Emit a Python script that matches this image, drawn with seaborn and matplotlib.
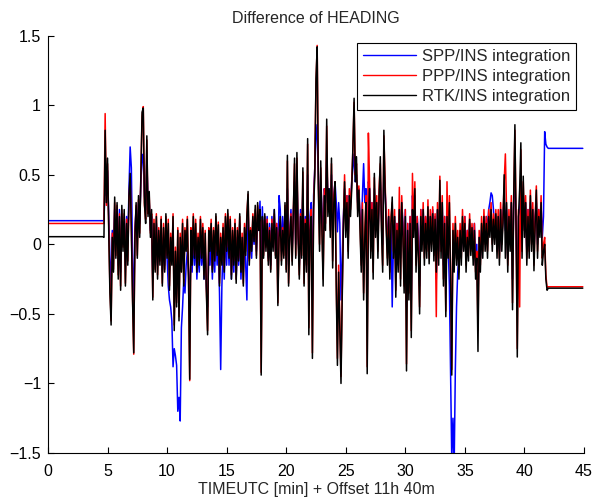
import numpy as np
import pandas as pd
import matplotlib
matplotlib.use("Agg")
import matplotlib.pyplot as plt
import seaborn as sns

# ---- data (minutes after 11h 40m, heading difference) ----
lead_t = [0.0, 4.6]
lead_spp = [0.17, 0.17]
lead_ppp = [0.15, 0.15]
lead_rtk = [0.055, 0.055]

noise_start = 4.7
noise_step = 0.1

spp_noise = [
    0.17, 0.45, 0.35, 0.53, 0.20, -0.10, -0.30, 0.10, -0.05, 0.25,
    0.00, 0.20, -0.15, 0.25, -0.20, 0.20, 0.05, 0.15, -0.15, 0.20,
    0.00, 0.40, 0.70, 0.55, -0.10, -0.45, 0.10, 0.25, 0.05, 0.30,
    0.15, 0.45, 0.60, 0.65, 0.35, 0.25, 0.60, 0.30, 0.30, 0.10,
    0.20, -0.25, 0.10, -0.10, 0.15, -0.15, 0.05, -0.05, 0.10, -0.20,
    0.05, -0.15, 0.05, -0.10, -0.30, -0.40, -0.45, -0.55, -0.88, -0.75,
    -0.80, -0.87, -1.20, -1.10, -1.27, -0.60, -0.45, -0.25, -0.35, -0.15,
    -0.05, -0.20, -0.40, -0.10, -0.20, 0.05, -0.15, 0.05, -0.25, -0.05,
    -0.20, 0.05, -0.15, 0.00, -0.25, -0.05, -0.30, -0.45, -0.05, -0.15,
    0.05, -0.25, 0.00, -0.20, 0.10, -0.15, 0.00, -0.35, -0.90, -0.30,
    0.00, -0.25, 0.10, -0.15, 0.15, -0.15, 0.10, -0.25, 0.00, -0.20,
    0.05, -0.25, 0.05, -0.15, 0.15, -0.25, -0.05, -0.20, 0.05, -0.15,
    -0.40, 0.25, -0.10, 0.05, -0.10, 0.15, 0.00, 0.20, -0.05, 0.15,
    0.10, 0.31, -0.10, 0.27, -0.05, 0.20, 0.00, 0.20, -0.10, 0.15,
    -0.15, 0.20, 0.00, 0.25, -0.05, 0.15, -0.20, 0.35, 0.25, -0.05,
    0.20, 0.00, 0.25, -0.10, 0.40, -0.15, 0.10, 0.25, -0.05, 0.20,
    0.45, 0.00, 0.50, 0.10, -0.15, 0.25, 0.00, 0.40, -0.15, 0.20,
    -0.05, 0.50, -0.30, 0.20, 0.30, -0.40, 0.35, 0.55, 0.86, 0.75,
    0.50, 0.15, 0.45, 0.25, 0.00, 0.40, 0.30, 0.60, 0.35, 0.40,
    0.25, 0.50, 0.10, 0.35, 0.45, 0.30, 0.09, 0.30, 0.15, -0.40,
    -0.10, 0.20, 0.40, 0.15, 0.35, 0.05, 0.35, 0.30, 0.45, 0.55,
    0.65, 0.45, 0.50, 0.30, 0.40, 0.20, 0.05, 0.35, 0.58, 0.30,
    0.40, -0.40, 0.45, 0.40, 0.10, 0.30, 0.00, 0.40, 0.15, 0.30,
    0.05, 0.35, 0.45, 0.20, 0.00, 0.55, 0.40, 0.20, 0.00, 0.20,
    -0.10, 0.15, -0.45, 0.00, 0.20, -0.20, 0.15, -0.05, 0.25, -0.10,
    0.30, 0.15, -0.15, 0.25, -0.45, 0.15, -0.20, 0.20, -0.40, 0.35,
    0.15, 0.35, -0.05, 0.20, 0.05, -0.30, 0.25, 0.05, 0.25, 0.00,
    0.20, 0.00, 0.25, -0.05, 0.20, 0.05, 0.25, 0.00, 0.20, -0.25,
    0.25, -0.05, 0.35, 0.00, 0.30, -0.15, 0.20, -0.30, 0.15, 0.00,
    -0.30, -0.90, -1.55, -1.25, -1.60, -0.90, -0.45, -0.20, -0.10, 0.00,
    -0.05, 0.15, 0.05, 0.20, -0.10, 0.10, 0.00, 0.15, 0.05, 0.10,
    -0.05, 0.15, -0.15, 0.00, -0.40, 0.05, -0.10, 0.10, 0.00, 0.15,
    0.05, 0.20, 0.10, 0.25, 0.30, 0.37, 0.35, 0.25, 0.10, 0.20,
    0.00, 0.20, -0.05, 0.25, 0.05, 0.20, 0.35, 0.10, 0.25, -0.10,
    0.20, 0.05, 0.30, -0.25, 0.30, 0.50, 0.15, -0.40, 0.20, 0.25,
    0.40, 0.05, 0.35, 0.10, 0.30, -0.05, 0.25, 0.00, 0.30, 0.05,
    0.25, -0.05, 0.20, 0.30, 0.00, 0.25, 0.10, 0.27, 0.05, 0.20,
]

ppp_noise = [
    0.15, 0.94, 0.28, 0.58, 0.12, -0.30, -0.55, 0.08, -0.18, 0.30,
    -0.08, 0.28, -0.22, 0.22, -0.30, 0.25, -0.02, 0.22, -0.28, 0.18,
    -0.12, 0.32, 0.48, 0.12, -0.38, -0.79, 0.08, 0.28, -0.08, 0.32,
    0.08, 0.52, 0.92, 0.99, 0.28, 0.18, 0.75, 0.22, 0.35, 0.08,
    0.22, -0.38, 0.18, -0.18, 0.22, -0.22, 0.12, -0.12, 0.20, -0.28,
    0.15, -0.18, 0.20, -0.08, 0.18, -0.30, 0.08, -0.12, 0.22, -0.58,
    -0.02, -0.42, 0.12, -0.52, 0.08, -0.18, 0.18, -0.28, 0.12, -0.02,
    0.20, -0.22, -0.98, 0.12, -0.12, 0.22, -0.08, 0.18, -0.18, 0.08,
    -0.12, 0.20, -0.08, 0.15, -0.22, 0.10, -0.32, -0.62, 0.12, -0.02,
    0.18, -0.18, 0.12, -0.10, 0.20, -0.05, 0.16, -0.28, 0.08, -0.12,
    0.15, -0.18, 0.22, -0.02, 0.22, -0.08, 0.20, -0.22, 0.12, -0.12,
    0.18, -0.25, 0.12, -0.10, 0.20, -0.18, 0.08, -0.28, 0.15, -0.05,
    0.22, 0.36, -0.12, 0.12, -0.02, 0.22, 0.05, 0.25, -0.08, 0.28,
    0.12, 0.22, -0.92, 0.18, -0.08, 0.20, -0.02, 0.18, -0.12, 0.12,
    -0.18, 0.18, -0.02, 0.22, -0.08, 0.15, -0.42, 0.08, 0.18, -0.12,
    0.12, -0.08, 0.28, -0.18, 0.60, -0.28, 0.08, 0.22, -0.12, 0.22,
    0.58, -0.08, 0.62, 0.08, -0.22, 0.22, -0.08, 0.52, -0.28, 0.18,
    -0.15, 0.72, -0.60, 0.15, 0.25, -0.78, 0.28, 0.55, 1.15, 1.43,
    0.45, 0.00, 0.55, 0.15, -0.25, 0.40, 0.15, 0.85, 0.25, 0.35,
    0.10, 0.58, -0.12, 0.35, 0.45, -0.25, -0.82, -0.15, -0.55, -0.95,
    -0.35, 0.15, 0.50, 0.10, 0.35, -0.05, 0.40, 0.25, 0.45, 0.68,
    1.02, 0.50, 0.58, 0.25, 0.42, 0.15, -0.15, 0.30, -0.35, 0.10,
    0.35, -0.88, 0.80, 0.45, -0.05, 0.30, -0.20, 0.48, 0.10, 0.35,
    -0.05, 0.40, 0.58, 0.15, -0.15, 0.78, 0.45, 0.15, -0.10, 0.25,
    -0.20, 0.20, 0.30, -0.05, 0.25, -0.33, 0.15, -0.15, 0.41, -0.25,
    0.35, 0.10, -0.30, 0.25, -0.86, 0.15, -0.35, 0.20, -0.62, 0.51,
    0.10, 0.45, -0.15, 0.20, -0.05, -0.45, 0.25, 0.00, 0.30, -0.10,
    0.20, -0.05, 0.32, -0.10, 0.25, 0.00, 0.27, -0.08, 0.22, -0.52,
    0.30, -0.10, 0.49, -0.05, 0.35, -0.25, 0.20, -0.48, 0.45, -0.05,
    0.35, -0.20, -0.90, 0.15, -0.15, 0.20, -0.10, 0.10, -0.20, 0.15,
    -0.10, 0.25, 0.00, 0.20, -0.15, 0.10, -0.08, 0.22, -0.05, 0.15,
    -0.10, 0.15, -0.20, -0.05, -0.62, 0.10, -0.15, 0.20, -0.05, 0.25,
    0.00, 0.20, -0.05, 0.25, 0.10, 0.30, 0.00, 0.22, 0.05, 0.25,
    -0.05, 0.25, -0.10, 0.30, 0.00, 0.20, 0.45, 0.65, 0.25, -0.15,
    0.25, 0.00, 0.35, -0.42, 0.30, 0.82, 0.15, -0.75, 0.25, -0.45,
    0.68, -0.05, 0.45, 0.10, 0.35, -0.10, 0.25, -0.05, 0.39, 0.00,
    0.30, -0.15, 0.20, 0.42, -0.05, 0.25, 0.10, 0.35, -0.10, 0.00,
]

rtk_noise = [
    0.05, 0.82, 0.30, 0.62, 0.10, -0.35, -0.58, 0.05, -0.20, 0.34,
    -0.10, 0.30, -0.25, 0.20, -0.33, 0.28, -0.05, 0.25, -0.30, 0.15,
    -0.15, 0.35, 0.51, 0.10, -0.40, -0.78, 0.05, 0.30, -0.10, 0.35,
    0.05, 0.50, 0.95, 0.98, 0.30, 0.15, 0.78, 0.20, 0.38, 0.05,
    0.25, -0.40, 0.15, -0.20, 0.20, -0.25, 0.10, -0.15, 0.18, -0.30,
    0.12, -0.20, 0.22, -0.10, 0.15, -0.33, 0.05, -0.15, 0.20, -0.62,
    -0.05, -0.45, 0.10, -0.55, 0.05, -0.20, 0.15, -0.30, 0.10, -0.05,
    0.18, -0.25, -0.97, 0.10, -0.15, 0.20, -0.10, 0.15, -0.20, 0.05,
    -0.15, 0.18, -0.10, 0.12, -0.25, 0.08, -0.35, -0.65, 0.10, -0.05,
    0.15, -0.20, 0.10, -0.12, 0.22, -0.08, 0.14, -0.30, 0.05, -0.15,
    0.12, -0.20, 0.20, -0.05, 0.25, -0.10, 0.18, -0.25, 0.10, -0.15,
    0.15, -0.28, 0.10, -0.12, 0.22, -0.20, 0.05, -0.30, 0.12, -0.08,
    0.20, 0.38, -0.15, 0.10, -0.05, 0.20, 0.02, 0.28, -0.10, 0.30,
    0.10, 0.25, -0.94, 0.20, -0.10, 0.22, -0.05, 0.15, -0.15, 0.10,
    -0.20, 0.15, -0.05, 0.25, -0.10, 0.12, -0.44, 0.05, 0.20, -0.15,
    0.10, -0.10, 0.30, -0.20, 0.64, -0.30, 0.05, 0.20, -0.15, 0.25,
    0.62, -0.10, 0.66, 0.05, -0.25, 0.20, -0.10, 0.55, -0.30, 0.15,
    -0.20, 0.76, -0.65, 0.10, 0.20, -0.82, 0.25, 0.50, 1.19, 1.42,
    0.40, -0.05, 0.60, 0.10, -0.30, 0.35, 0.10, 0.90, 0.20, 0.40,
    0.05, 0.62, -0.17, 0.30, 0.45, -0.30, -0.87, -0.20, -0.60, -1.00,
    -0.40, 0.10, 0.45, 0.05, 0.30, -0.10, 0.35, 0.20, 0.40, 0.70,
    1.05, 0.45, 0.63, 0.20, 0.39, 0.10, -0.20, 0.25, -0.40, 0.05,
    0.30, -0.93, 0.15, 0.40, -0.10, 0.25, -0.25, 0.51, 0.05, 0.30,
    -0.10, 0.35, 0.63, 0.10, -0.20, 0.82, 0.40, 0.10, -0.15, 0.20,
    -0.25, 0.15, 0.34, -0.10, 0.20, -0.38, 0.10, -0.20, 0.25, -0.30,
    0.30, 0.05, -0.35, 0.20, -0.91, 0.10, -0.40, 0.15, -0.67, 0.25,
    0.05, 0.40, -0.20, 0.15, -0.10, -0.50, 0.20, -0.05, 0.25, -0.15,
    0.15, -0.10, 0.27, -0.14, 0.20, -0.05, 0.22, -0.12, 0.18, -0.20,
    0.25, -0.15, 0.46, -0.10, 0.30, -0.30, 0.15, -0.52, 0.20, -0.10,
    0.30, -0.25, -0.94, 0.10, -0.20, 0.15, -0.15, 0.05, -0.25, 0.10,
    -0.15, 0.20, -0.05, 0.15, -0.20, 0.05, -0.12, 0.18, -0.08, 0.12,
    -0.15, 0.10, -0.25, -0.10, -0.77, 0.05, -0.20, 0.15, -0.10, 0.20,
    -0.05, 0.15, -0.10, 0.20, 0.05, 0.25, -0.05, 0.18, 0.00, 0.22,
    -0.10, 0.20, -0.15, 0.25, -0.05, 0.15, 0.50, -0.10, 0.30, -0.20,
    0.20, -0.05, 0.30, -0.47, 0.35, 0.86, 0.10, -0.81, 0.20, 0.40,
    0.73, -0.10, 0.49, 0.05, 0.30, -0.15, 0.20, -0.10, 0.35, -0.05,
    0.25, -0.19, 0.15, 0.39, -0.10, 0.20, 0.05, 0.30, -0.15, -0.05,
]

tail_t = [41.7, 41.8, 41.9, 42.0, 44.9]
tail_spp = [0.81, 0.72, 0.70, 0.69, 0.69]
tail_ppp = [0.05, -0.22, -0.31, -0.305, -0.305]
tail_rtk = [0.00, -0.25, -0.33, -0.315, -0.315]

labels = ["SPP/INS integration", "PPP/INS integration", "RTK/INS integration"]
colors = ["#0000ff", "#ff0000", "#000000"]
x_ticks = [0, 5, 10, 15, 20, 25, 30, 35, 40, 45]
y_ticks = [-1.5, -1, -0.5, 0, 0.5, 1, 1.5]

# ---- build tables ----
noise_t = list(np.round(noise_start + noise_step * np.arange(len(rtk_noise)), 2))
time = lead_t + noise_t + tail_t
series = {
    labels[0]: lead_spp + spp_noise + tail_spp,
    labels[1]: lead_ppp + ppp_noise + tail_ppp,
    labels[2]: lead_rtk + rtk_noise + tail_rtk,
}

sns.set_theme(style="ticks")
plt.rcParams["font.family"] = ["Liberation Sans", "DejaVu Sans"]
plt.rcParams["axes.linewidth"] = 0.8

fig = plt.figure(figsize=(5.93, 4.99), dpi=100)
ax = fig.add_axes([0.0809, 0.0922, 0.9039, 0.8363])

for lab, col in zip(labels, colors):
    df = pd.DataFrame({"t": time, "v": series[lab]})
    sns.lineplot(data=df, x="t", y="v", ax=ax, color=col, lw=1.1,
                 estimator=None, sort=False, label=lab)

ax.set_xlim(0, 45)
ax.set_ylim(-1.5, 1.5)
ax.set_xticks(x_ticks)
ax.set_xticklabels([str(v) for v in x_ticks])
ax.set_yticks(y_ticks)
ax.set_yticklabels(["\u22121.5", "\u22121", "\u22120.5", "0", "0.5", "1", "1.5"])
for s in ["top", "right"]:
    ax.spines[s].set_visible(False)
for s in ["left", "bottom"]:
    ax.spines[s].set_color("black")
ax.tick_params(direction="in", length=4, width=0.8, colors="black",
               labelsize=11.5, pad=5)
ax.tick_params(axis="x", pad=8)

ax.set_title("Difference of HEADING", fontsize=11.5, pad=9)
ax.set_xlabel("TIMEUTC [min] + Offset 11h 40m", fontsize=11.5, labelpad=2)
ax.set_ylabel("")

leg = ax.legend(loc="upper right", fontsize=12, frameon=True, fancybox=False,
                edgecolor="black", framealpha=1, handlelength=3.2,
                handletextpad=0.35, labelspacing=0.3, borderpad=0.35,
                borderaxespad=0.45)
leg.get_frame().set_linewidth(0.8)
for h in leg.get_lines():
    h.set_linewidth(1.0)

fig.savefig("out.png", dpi=100)
